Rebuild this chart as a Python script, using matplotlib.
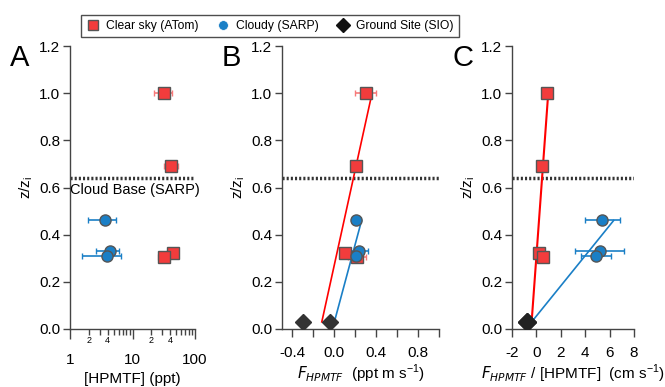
import matplotlib.pyplot as plt
import numpy as np
from matplotlib.ticker import LogLocator, FuncFormatter

plt.rcParams['font.family'] = ['Liberation Sans', 'DejaVu Sans']
plt.rcParams['font.size'] = 9

# z/zi levels
z_clear = [1.0, 0.693, 0.322, 0.304]
z_cloud = [0.462, 0.330, 0.311]
z_ground = [0.03, 0.03]
cloud_base = 0.64

# Panel A: [HPMTF] (ppt)
a_clear = [32, 42, 44, 32]
a_clear_lo = [22, 32, 36, 26]
a_clear_hi = [43, 53, 52, 40]
a_cloud = [3.6, 4.4, 3.95]
a_cloud_lo = [1.96, 2.6, 1.57]
a_cloud_hi = [5.45, 6.1, 6.55]

# Panel B: F_HPMTF (ppt m s-1)
b_clear = [0.307, 0.204, 0.097, 0.213]
b_clear_lo = [0.198, 0.18, 0.08, 0.135]
b_clear_hi = [0.40, 0.23, 0.11, 0.307]
b_cloud = [0.204, 0.235, 0.204]
b_cloud_lo = [0.166, 0.15, 0.19]
b_cloud_hi = [0.254, 0.323, 0.22]
b_ground = [-0.295, -0.038]
b_fit_clear_x = [-0.12, 0.36]
b_fit_clear_z = [0.03, 1.0]
b_fit_cloud_x = [0.0, 0.26]
b_fit_cloud_z = [0.03, 0.46]

# Panel C: F_HPMTF / [HPMTF] (cm s-1)
c_clear = [0.89, 0.43, 0.21, 0.56]
c_cloud = [5.41, 5.21, 4.88]
c_cloud_lo = [3.98, 3.16, 3.66]
c_cloud_hi = [6.85, 7.18, 6.08]
c_ground = [-0.8, -0.75]
c_fit_clear_x = [-0.39, 0.97]
c_fit_clear_z = [0.03, 1.0]
c_fit_cloud_x = [-0.39, 6.33]
c_fit_cloud_z = [0.03, 0.46]

red = '#f23c3c'
pink = '#f77a7a'
blue = '#1a7fc6'
dark = '#333333'
edge = '#555555'

fig = plt.figure(figsize=(6.65, 3.87), dpi=100)
axA = fig.add_axes([0.1053, 0.1499, 0.188, 0.7312])
axB = fig.add_axes([0.4241, 0.1499, 0.2361, 0.7312])
axC = fig.add_axes([0.7699, 0.1499, 0.1835, 0.7312])


def err(x, lo, hi):
    x = np.array(x)
    return [x - np.array(lo), np.array(hi) - x]


def style(ax):
    for s in ['top', 'right']:
        ax.spines[s].set_visible(False)
    for s in ['left', 'bottom']:
        ax.spines[s].set_color('#444444')
        ax.spines[s].set_linewidth(1.0)
    ax.set_ylim(0, 1.2)
    ax.set_yticks(np.arange(0, 1.21, 0.2))
    ax.yaxis.set_major_formatter(FuncFormatter(lambda v, p: f'{v:.1f}'))
    ax.tick_params(direction='out', length=5, width=1, color='#444444',
                   labelsize=11, pad=2)
    ax.axhline(cloud_base, color='#333333', lw=2.5, ls=(0, (0.6, 0.6)), zorder=1)
    ax.set_ylabel(r'z/z$_\mathregular{i}$', fontsize=11, labelpad=3)


# Panel A
axA.set_xscale('log')
axA.set_xlim(1, 100)
axA.errorbar(a_clear, z_clear, xerr=err(a_clear, a_clear_lo, a_clear_hi), fmt='s',
             ms=8, mfc=red, mec=edge, mew=1, ecolor=pink, elinewidth=1.2,
             capsize=2, zorder=3)
axA.errorbar(a_cloud, z_cloud, xerr=err(a_cloud, a_cloud_lo, a_cloud_hi), fmt='o',
             ms=8, mfc=blue, mec=edge, mew=1, ecolor=blue, elinewidth=1.2,
             capsize=2, zorder=3)
style(axA)
axA.xaxis.set_major_locator(LogLocator(base=10, numticks=5))
axA.xaxis.set_minor_locator(LogLocator(base=10, subs=np.arange(2, 10), numticks=10))
axA.xaxis.set_minor_formatter(FuncFormatter(
    lambda v, p: str(int(round(v / 10 ** np.floor(np.log10(v) + 1e-9))))
    if round(v / 10 ** np.floor(np.log10(v) + 1e-9)) in (2, 4) else ''))
axA.xaxis.set_major_formatter(FuncFormatter(lambda v, p: f'{v:g}'))
axA.tick_params(axis='x', which='major', length=7, labelsize=11, pad=10)
axA.tick_params(axis='x', which='minor', length=4, width=1, color='#444444',
                labelsize=6.5, pad=1)
axA.set_xlabel('[HPMTF] (ppt)', fontsize=11, labelpad=4)
axA.text(1.0, cloud_base - 0.02, 'Cloud Base (SARP)', fontsize=10.5, va='top',
         ha='left')

# Panel B
axB.set_xlim(-0.5, 1.0)
axB.plot(b_fit_clear_x, b_fit_clear_z, color='red', lw=1.2, zorder=2)
axB.plot(b_fit_cloud_x, b_fit_cloud_z, color=blue, lw=1.2, zorder=2)
axB.errorbar(b_clear, z_clear, xerr=err(b_clear, b_clear_lo, b_clear_hi), fmt='s',
             ms=8, mfc=red, mec=edge, mew=1, ecolor=pink, elinewidth=1.2,
             capsize=2, zorder=3)
axB.errorbar(b_cloud, z_cloud, xerr=err(b_cloud, b_cloud_lo, b_cloud_hi), fmt='o',
             ms=8, mfc=blue, mec=edge, mew=1, ecolor=blue, elinewidth=1.2,
             capsize=2, zorder=3)
axB.plot(b_ground, z_ground, 'D', ms=8, color=dark, zorder=4)
style(axB)
axB.set_xticks(np.arange(-0.4, 1.01, 0.2))
axB.set_xticklabels(['-0.4', '', '0.0', '', '0.4', '', '0.8', ''])
axB.tick_params(axis='x', length=6, labelsize=11, pad=6)
axB.set_xlabel(r'$F_{HPMTF}$  (ppt m s$^\mathregular{-1}$)', fontsize=11, labelpad=2)

# Panel C
axC.set_xlim(-2, 8)
axC.plot(c_fit_clear_x, c_fit_clear_z, color='red', lw=1.5, zorder=2)
axC.plot(c_fit_cloud_x, c_fit_cloud_z, color=blue, lw=1.2, zorder=2)
axC.plot(c_clear, z_clear, 's', ms=8, mfc=red, mec=edge, mew=1, zorder=3)
axC.errorbar(c_cloud, z_cloud, xerr=err(c_cloud, c_cloud_lo, c_cloud_hi), fmt='o',
             ms=8, mfc=blue, mec=edge, mew=1, ecolor=blue, elinewidth=1.2,
             capsize=2, zorder=3)
axC.plot(c_ground, z_ground, 'D', ms=9, color='#222222', zorder=4)
style(axC)
axC.set_xticks(np.arange(-2, 8.1, 2))
axC.set_xticklabels(['-2', '0', '2', '4', '6', '8'])
axC.tick_params(axis='x', length=6, labelsize=11, pad=6)
axC.set_xlabel(r'$F_{HPMTF}$ / [HPMTF]  (cm s$^\mathregular{-1}$)', fontsize=11,
               labelpad=2)

# panel letters
for letter, xpos in [('A', 10), ('B', 222), ('C', 453)]:
    fig.text(xpos / 665, 1 - 66 / 387, letter, fontsize=21, ha='left', va='baseline')

# legend
handles = [
    plt.Line2D([], [], ls='', marker='s', ms=7, mfc=red, mec=edge, mew=1),
    plt.Line2D([], [], ls='', marker='o', ms=7, mfc=blue, mec='white', mew=0.5),
    plt.Line2D([], [], ls='', marker='D', ms=7, color='#111111'),
]
leg = fig.legend(handles, ['Clear sky (ATom)', 'Cloudy (SARP)', 'Ground Site (SIO)'],
                 loc='center', bbox_to_anchor=(270 / 665, 1 - 26 / 387), ncol=3,
                 fontsize=8.7, frameon=True, fancybox=False, edgecolor='#222222',
                 handletextpad=0.6, columnspacing=1.5, handlelength=1.0,
                 borderpad=0.45, borderaxespad=0.2)
leg.get_frame().set_linewidth(1.0)

fig.savefig('out.png', dpi=100)
